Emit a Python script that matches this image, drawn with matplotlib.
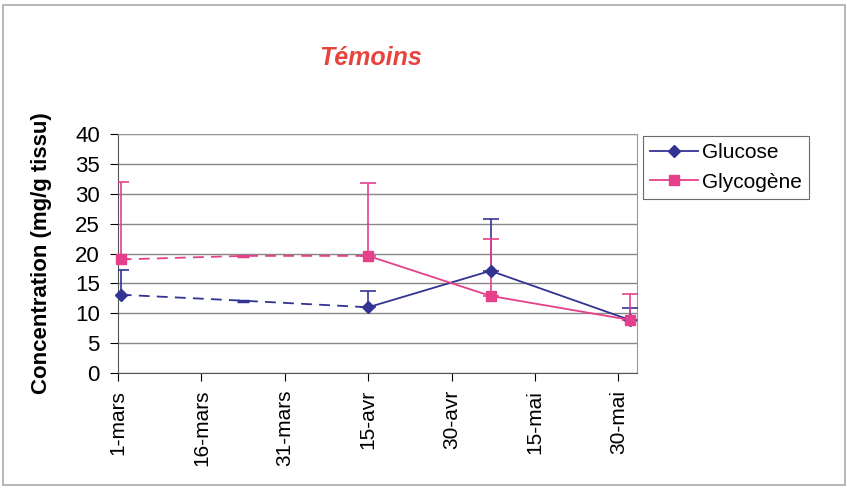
#Graphique Témoins - glucose et glycogène

import matplotlib.pyplot as plt
import pandas as pd
from matplotlib.patches import Rectangle

plt.rcParams['font.family'] = ['Liberation Sans', 'DejaVu Sans']

dates = pd.to_datetime(["2007-03-01 12:00", "2007-03-23 12:00", "2007-04-15 00:00",
                        "2007-05-07 00:00", "2007-06-01 00:00"])
glucose = [13.1, 12.1, 11.0, 17.1, 8.9]
glucose_err = [4.2, 0, 2.7, 8.6, 2.0]
glycogene = [19.0, 19.6, 19.6, 12.9, 8.9]
glycogene_err = [13.0, 0, 12.2, 9.5, 4.3]

tick_dates = pd.to_datetime(["2007-03-01", "2007-03-16", "2007-03-31", "2007-04-15",
                             "2007-04-30", "2007-05-15", "2007-05-30"])
tick_labels = ["1-mars", "16-mars", "31-mars", "15-avr", "30-avr", "15-mai", "30-mai"]

c_glu = "#333394"
c_gly = "#e6408a"

fig = plt.figure(figsize=(8.47, 4.93), dpi=100)
ax = fig.add_axes([0.1393, 0.2434, 0.6127, 0.4848])

# partie pointillée (3 premiers points) puis partie pleine
for y, err, c, m in [(glucose, glucose_err, c_glu, "D"), (glycogene, glycogene_err, c_gly, "s")]:
    ax.plot(dates[:3], y[:3], color=c, lw=1.3, ls=(0, (6, 4)), zorder=3)
    ax.plot(dates[2:], y[2:], color=c, lw=1.3, zorder=3)
    idx = [0, 2, 3, 4]
    ax.plot(dates[idx], [y[i] for i in idx], ls="none", marker=m, color=c,
            ms=7 if m == "s" else 6, zorder=4, clip_on=False)
    ax.plot(dates[1:2], y[1:2], ls="none", marker="_", color=c, ms=8, mew=2.5, zorder=4)
    ax.errorbar(dates[idx], [y[i] for i in idx], yerr=[[0] * 4, [err[i] for i in idx]],
                fmt="none", ecolor=c, elinewidth=1.2, capsize=6, capthick=1.2, zorder=3)

ax.plot([], [], color=c_glu, marker="D", ms=6, lw=1.3, label="Glucose")
ax.plot([], [], color=c_gly, marker="s", ms=7, lw=1.3, label="Glycogène")

ax.set_ylim(0, 40)
ax.set_yticks(range(0, 41, 5))
ax.set_xlim(pd.Timestamp("2007-03-01"), pd.Timestamp("2007-06-02 08:00"))
ax.set_xticks(tick_dates)
ax.set_xticklabels(tick_labels, rotation=90, fontsize=15)
ax.tick_params(axis="y", labelsize=16, length=6, pad=7, direction="out")
ax.tick_params(axis="x", length=6, pad=6, direction="out")
ax.yaxis.grid(True, color="#888888", lw=1)
ax.set_axisbelow(True)
for s in ["top", "right"]:
    ax.spines[s].set_color("#999999")
ax.spines["left"].set_color("#555555")
ax.spines["bottom"].set_color("#555555")

ax.set_ylabel("Concentration (mg/g tissu)", fontsize=16, fontweight="bold")
ax.yaxis.set_label_coords(-0.127, 0.5)

fig.text(0.437, 0.882, "Témoins", color="#e8443e", fontsize=18, fontweight="bold",
         fontstyle="italic", ha="center", va="center")

leg = fig.legend(loc="upper left", bbox_to_anchor=(0.759, 0.724), fontsize=15,
                 frameon=True, fancybox=False, edgecolor="#444444", handlelength=2.3,
                 handletextpad=0.2, borderpad=0.35, labelspacing=0.5, borderaxespad=0)
leg.get_frame().set_linewidth(0.8)

fig.patches.append(Rectangle((0.0035, 0.0162), 0.994, 0.9737, transform=fig.transFigure,
                             fill=False, edgecolor="#aaaaaa", lw=1.2))

plt.savefig("out.png")
